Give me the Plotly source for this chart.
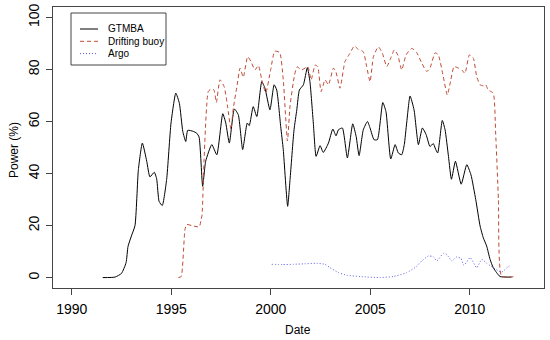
import plotly.graph_objects as go

gtmba_year = [1991.56, 1992.18, 1992.5, 1992.73, 1992.83, 1993.0, 1993.18, 1993.35, 1993.55, 1993.77,
              1993.93, 1994.15, 1994.27, 1994.39, 1994.55, 1994.77, 1994.99, 1995.23, 1995.41, 1995.58,
              1995.73, 1995.83, 1996.11, 1996.28, 1996.4, 1996.58, 1996.73, 1997.04, 1997.29, 1997.59,
              1997.74, 1997.92, 1998.17, 1998.37, 1998.59, 1998.82, 1998.92, 1999.12, 1999.3, 1999.55,
              1999.71, 1999.96, 2000.17, 2000.3, 2000.5, 2000.63, 2000.85, 2000.97, 2001.17, 2001.31,
              2001.44, 2001.64, 2001.84, 2001.97, 2002.14, 2002.28, 2002.48, 2002.64, 2002.9, 2003.12,
              2003.28, 2003.4, 2003.6, 2003.85, 2004.12, 2004.29, 2004.44, 2004.65, 2004.86, 2004.99,
              2005.19, 2005.36, 2005.63, 2005.79, 2006.03, 2006.25, 2006.41, 2006.58, 2006.71, 2006.83,
              2007.0, 2007.2, 2007.42, 2007.62, 2007.81, 2008.0, 2008.17, 2008.26, 2008.39, 2008.62,
              2008.76, 2008.93, 2009.08, 2009.28, 2009.57, 2009.85, 2010.06, 2010.3, 2010.52, 2010.68,
              2010.85, 2011.02, 2011.18, 2011.35, 2011.52, 2012.1]
gtmba_power = [0, 0.2, 1.6, 5.7, 12, 16, 20, 41.5, 51.7, 44.7,
               38.7, 40.5, 37.9, 29.3, 27.7, 37.7, 59.4, 70.9, 67, 56.2,
               52.3, 56.6, 56.2, 55.5, 54, 35.1, 44.7, 51.1, 47.2, 63,
               59.4, 51.7, 64.8, 62.6, 49.2, 59.4, 58.4, 65.7, 61.9, 75.3,
               72.8, 64.5, 74.1, 72.1, 58.1, 49.2, 27.4, 37.7, 56.8, 64.5,
               72.1, 74.1, 80.7, 75.3, 59.4, 46.6, 50.7, 48.1, 51.7, 57.1,
               54.5, 56.8, 57.5, 46, 59.1, 54.3, 46.9, 56.8, 60, 57.5,
               53, 53, 67.3, 63.8, 45.6, 51.1, 47.9, 47.2, 51.1, 59.4,
               69.8, 64.5, 51.1, 57.5, 54.9, 50.4, 51.5, 49.8, 47.9, 60.4,
               56.8, 46.6, 37.8, 44.7, 35.9, 43.4, 39.5, 30, 19.8, 15.3,
               12.1, 7, 3.8, 1.9, 0.4, 0.2]

drift_year = [1995.36, 1995.5, 1995.69, 1995.78, 1996.03, 1996.41, 1996.5, 1996.55, 1996.65, 1996.86,
              1997.0, 1997.15, 1997.27, 1997.45, 1997.66, 1997.82, 1998.0, 1998.12, 1998.3, 1998.46,
              1998.62, 1998.84, 1999.01, 1999.21, 1999.38, 1999.55, 1999.75, 2000.0, 2000.2, 2000.45,
              2000.63, 2000.84, 2000.97, 2001.2, 2001.32, 2001.56, 2001.86, 2002.03, 2002.23, 2002.36,
              2002.53, 2002.73, 2002.9, 2003.15, 2003.27, 2003.48, 2003.73, 2003.98, 2004.2, 2004.4,
              2004.65, 2004.82, 2004.99, 2005.16, 2005.41, 2005.61, 2005.83, 2005.99, 2006.21, 2006.38,
              2006.58, 2006.8, 2007.09, 2007.34, 2007.59, 2007.84, 2008.0, 2008.26, 2008.42, 2008.67,
              2008.87, 2009.05, 2009.21, 2009.43, 2009.6, 2009.76, 2009.98, 2010.18, 2010.35, 2010.52,
              2010.68, 2010.8, 2010.93, 2011.18, 2011.3, 2011.44, 2011.6, 2012.19]
drift_power = [0, 0.4, 18.5, 20.4, 20, 19.5, 22.3, 24, 45.3, 71.5,
               72.5, 72.1, 67.3, 76, 73.4, 66.4, 57, 65.1, 73.4, 80.5,
               77, 84.9, 83, 79.8, 81.5, 76, 71, 80, 87, 86.5,
               76, 52.5, 66, 78, 81, 79.8, 81.1, 76, 81.7, 81.1,
               71.5, 76, 74.1, 80.5, 79.2, 72.8, 83, 86.2, 89, 87.7,
               86.8, 81.1, 75.3, 84.9, 88.7, 86.2, 81.1, 83.6, 87.5, 85.6,
               79.8, 85.6, 88.1, 86.4, 82.4, 79.2, 80.5, 86.4, 85.6, 77.2,
               70.2, 76, 81.1, 80.5, 79.8, 78.5, 85.6, 84.3, 77.2, 74.1,
               73.7, 74.1, 72.1, 70.9, 55.6, 30, 0.6, 0.3]

argo_year = [2000.05, 2000.6, 2001.14, 2001.7, 2002.31, 2002.73, 2002.98, 2003.4, 2003.82, 2004.49,
             2005.49, 2006.16, 2006.83, 2007.25, 2007.59, 2007.92, 2008.17, 2008.34, 2008.67, 2008.84,
             2009.1, 2009.35, 2009.56, 2009.71, 2010.02, 2010.35, 2010.6, 2010.85, 2011.18, 2011.6,
             2011.94, 2012.1]
argo_power = [5.1, 5, 5.1, 5.3, 5.5, 5.1, 3.8, 1.9, 0.9, 0.4,
              0, 0.4, 1.9, 3.8, 6.4, 8.3, 8, 6.4, 9.3, 8.9,
              6.4, 8, 7.3, 4.7, 7.7, 3.8, 7, 5.5, 3.8, 2.1,
              4.2, 4.7]

series_names = ["GTMBA", "Drifting buoy", "Argo"]
x_ticks = [1990, 1995, 2000, 2005, 2010]
y_ticks = [0, 20, 40, 60, 80, 100]

FONT = "Liberation Sans, Arial, sans-serif"
AXC = "#444444"
COLORS = ["#000000", "#C04A35", "#5C5CE6"]
DASHES = ["solid", "4px,3px", "1px,2px"]

# plot area in pixels (for legend placement in paper coords)
L, R, T, B = 53, 544, 7, 288
def px(x):
    return (x - L) / (R - L)
def py(y):
    return (B - y) / (B - T)

fig = go.Figure()
for name, xs, ys, c, d in zip(series_names,
                              [gtmba_year, drift_year, argo_year],
                              [gtmba_power, drift_power, argo_power],
                              COLORS, DASHES):
    fig.add_trace(go.Scatter(x=xs, y=ys, mode="lines", name=name, showlegend=False,
                             line=dict(color=c, width=1, dash=d, shape="spline", smoothing=0.5)))

shapes = [dict(type="rect", xref="paper", yref="paper",
               x0=px(71), x1=px(166), y0=py(65), y1=py(13),
               line=dict(color=AXC, width=1), fillcolor="white", layer="above")]
annotations = []
for i, (name, c, d) in enumerate(zip(series_names, COLORS, DASHES)):
    yy = 29 + i * 12.3
    shapes.append(dict(type="line", xref="paper", yref="paper",
                       x0=px(80), x1=px(98), y0=py(yy), y1=py(yy),
                       line=dict(color=c, width=1, dash=d), layer="above"))
    annotations.append(dict(text=name, xref="paper", yref="paper", x=px(106), y=py(yy),
                            xanchor="left", yanchor="middle", showarrow=False,
                            font=dict(size=10, family=FONT, color="#000000")))

annotations.append(dict(text="Date", xref="paper", yref="paper", x=px(298), y=py(330),
                        xanchor="center", yanchor="middle", showarrow=False,
                        font=dict(size=12, family=FONT, color="#000000")))
annotations.append(dict(text="Power (%)", xref="paper", yref="paper", x=px(14), y=py(150),
                        xanchor="center", yanchor="middle", showarrow=False, textangle=-90,
                        font=dict(size=12, family=FONT, color="#000000")))

fig.update_layout(
    width=550, height=340,
    margin=dict(l=L, r=550 - R, t=T, b=340 - B, autoexpand=False),
    paper_bgcolor="white", plot_bgcolor="white",
    font=dict(family=FONT, color="#000000"),
    showlegend=False,
    shapes=shapes,
    annotations=annotations,
    xaxis=dict(range=[1989.06, 2013.73], tickvals=x_ticks, ticktext=[str(v) for v in x_ticks],
               automargin=False,
               showgrid=False, zeroline=False, showline=True, mirror=True,
               linecolor=AXC, linewidth=1, ticks="outside", ticklen=6, tickcolor=AXC,
               tickfont=dict(size=14, family=FONT), ticklabelstandoff=2),
    yaxis=dict(range=[-4, 104], tickvals=y_ticks, ticktext=[str(v) for v in y_ticks],
               automargin=False,
               showgrid=False, zeroline=False, showline=True, mirror=True,
               linecolor=AXC, linewidth=1, ticks="outside", ticklen=6, tickcolor=AXC,
               tickangle=-90, tickfont=dict(size=14, family=FONT), ticklabelstandoff=1),
)

fig.write_html("out.html", config={"displayModeBar": False},
               post_script="document.body.style.margin='0';document.body.style.overflow='hidden';")
